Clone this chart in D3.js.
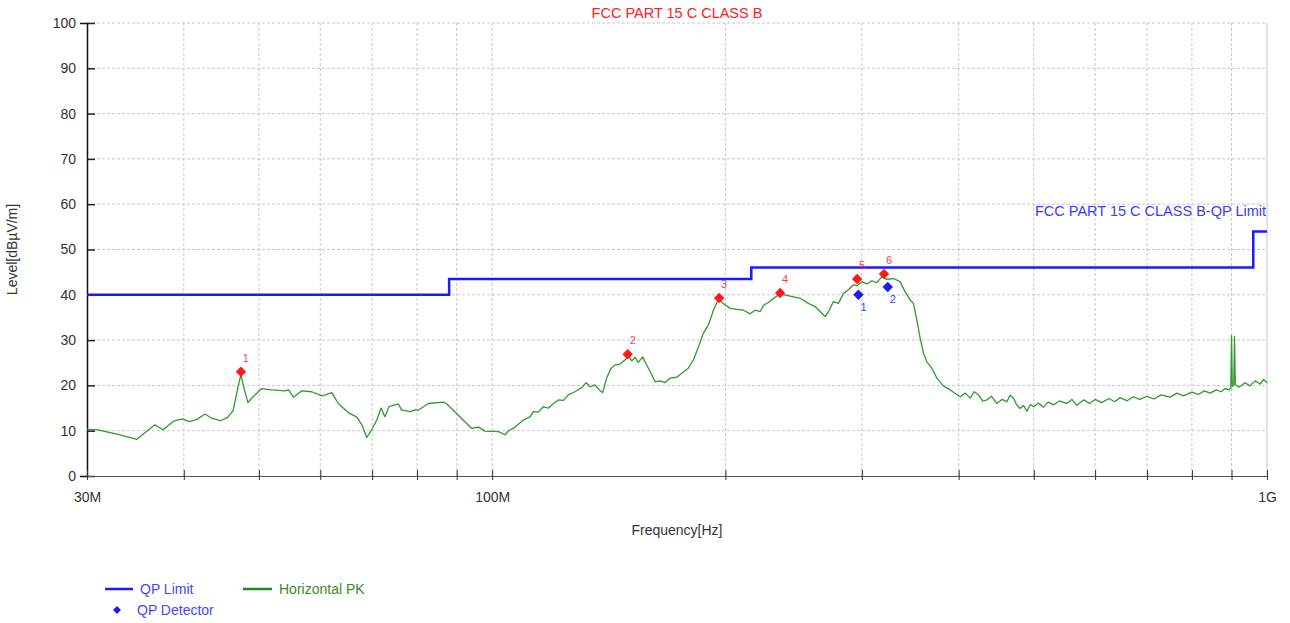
<!DOCTYPE html>
<html>
<head>
<meta charset="utf-8">
<script src="https://cdn.jsdelivr.net/npm/d3@7"></script>
<style>
    body { margin: 0; background: #fff; }
    svg { display: block; font-family: "Liberation Sans", Arial, sans-serif; }
    .grid line { stroke: #c8c8c8; stroke-dasharray: 3 2; }
</style>
</head>
<body>
<div id="chart"></div>
<script>
// peak trace (Horizontal PK), frequency in MHz / level in dBuV/m
const pkFreq = [30.0, 31.0, 32.9, 34.8, 35.8, 36.7, 37.6, 38.8, 39.8, 40.7, 41.6, 42.6, 43.5, 44.6, 45.6, 46.3,
    47.0, 47.4, 47.9, 48.4, 48.9, 50.4, 51.9, 54.0, 54.6, 55.4, 56.8, 58.5, 60.3, 62.1, 63.3, 65.2, 66.9, 67.9,
    68.9, 69.9, 71.0, 71.9, 72.7, 73.6, 75.7, 76.4, 78.4, 79.5, 80.3, 82.7, 86.5, 87.4, 89.5, 94.1, 96.0, 97.9,
    101.9, 103.9, 105.0, 107.1, 109.8, 112.0, 113.0, 114.7, 116.4, 118.2, 120.0, 121.7, 123.6, 125.4, 127.9,
    130.5, 132.2, 133.8, 135.7, 137.5, 138.9, 140.5, 142.4, 144.0, 146.2, 148.4, 150.0, 151.4, 152.9, 154.4,
    156.4, 158.3, 160.7, 162.3, 164.7, 167.1, 169.6, 173.1, 175.7, 179.1, 181.8, 184.6, 187.3, 190.1, 193.0,
    195.9, 198.8, 202.8, 206.9, 211.0, 215.3, 218.5, 221.8, 224.0, 227.2, 230.6, 235.3, 242.4, 250.0, 255.9,
    261.1, 265.0, 269.0, 271.7, 275.7, 279.8, 284.0, 288.3, 292.6, 295.6, 300.0, 304.5, 309.1, 313.7, 318.4,
    323.2, 329.6, 336.1, 341.1, 346.3, 349.7, 353.3, 356.7, 360.3, 363.9, 369.4, 374.9, 382.3, 390.0, 401.8,
    408, 413.9, 419, 424.3, 430, 435, 441, 448.2, 455, 461.6, 466, 470.7, 475, 480.2, 485, 489.9, 495, 500,
    507, 514.7, 522, 530.2, 540, 551.7, 560, 568.2, 580, 590, 600, 612, 625, 636, 646.3, 660, 672, 685, 700,
    715, 730, 750, 765, 780, 800, 815, 830, 844.8, 860, 872, 883, 893, 898, 900, 902, 906, 908, 910, 920, 937,
    950, 965, 980, 990, 1000];
const pkLevel = [10.3, 10.2, 9.2, 8.1, 9.8, 11.3, 10.2, 12.1, 12.6, 12.0, 12.5, 13.7, 12.7, 12.2, 13.0, 14.4,
    19.7, 22.4, 19.0, 16.2, 17.1, 19.3, 19.0, 18.8, 19.0, 17.4, 18.8, 18.6, 17.7, 18.4, 16.0, 14.0, 13.0, 11.3,
    8.5, 10.2, 12.4, 15.0, 13.1, 15.3, 15.9, 14.6, 14.2, 14.6, 14.5, 16.0, 16.3, 15.9, 14.2, 10.5, 10.8, 9.9,
    9.8, 9.1, 10.0, 10.8, 12.4, 13.1, 14.2, 14.1, 15.3, 15.0, 16.0, 16.8, 16.7, 17.9, 18.6,
    19.5, 20.6, 19.7, 20.1, 19.0, 18.4, 21.6, 23.8, 24.5, 24.7, 25.6, 26.5, 25.4, 26.2, 25.1,
    26.3, 24.5, 22.3, 20.8, 21.0, 20.6, 21.6, 21.8, 22.7, 23.8, 25.6, 28.5, 31.5, 33.3, 36.6,
    39.0, 38.1, 37.0, 36.8, 36.6, 35.8, 36.6, 36.3, 37.7, 38.3, 39.2, 40.2, 39.7, 39.2, 38.1,
    37.4, 36.3, 35.2, 36.3, 38.5, 38.1, 40.3, 41.1, 42.2, 42.0, 42.9, 42.4, 43.1, 42.7, 44.0,
    43.4, 43.6, 42.9, 40.7, 38.9, 38.1, 34.4, 30.5, 27.1, 25.2, 23.8, 21.6, 19.9, 19.0, 17.5,
    18.3, 17.2, 18.6, 17.9, 16.5, 16.8, 17.6, 16.0, 16.9, 16.4, 17.8, 17.2, 15.8, 14.9, 15.6, 14.3, 15.8, 15.3,
    16.1, 15.2, 16.3, 15.7, 16.6, 16.0, 16.9, 15.6, 16.8, 16.0, 16.9, 16.2, 17.1, 16.4, 17.3, 16.6, 17.5, 16.9, 17.6,
    17.0, 17.9, 17.4, 18.3, 17.7, 18.5, 18.0, 18.8, 18.3, 19.0, 18.6, 19.3, 19.0, 19.4, 31.0, 19.8, 20.0, 30.8, 20.2, 19.6, 20.6,
    19.9, 21.0, 20.3, 21.3, 20.6];

// QP limit (step line)
const limitFreq = [30, 88, 88, 216, 216, 960, 960, 1000];
const limitLevel = [40, 40, 43.5, 43.5, 46, 46, 54, 54];

// peak markers (red) and QP detector results (blue)
const peakIds = ['1', '2', '3', '4', '5', '6'];
const peakFreq = [47.4, 149.6, 196.3, 235.3, 295.8, 320.4];
const peakLevel = [23.0, 26.9, 39.3, 40.4, 43.5, 44.6];
const qpIds = ['1', '2'];
const qpFreq = [297.0, 324.0];
const qpLevel = [40.0, 41.7];

const yTicks = [0, 10, 20, 30, 40, 50, 60, 70, 80, 90, 100];
const xTicks = [30, 40, 50, 60, 70, 80, 90, 100, 200, 300, 400, 500, 600, 700, 800, 900, 1000];
const xTickLabels = {30: '30M', 100: '100M', 1000: '1G'};

const width = 1290;
const height = 623;
const margin = {top: 23, right: 23, bottom: 147, left: 87};
const graphWidth = width - margin.left - margin.right;
const graphHeight = height - margin.top - margin.bottom;

const svg = d3.select('#chart').append('svg')
    .attr('width', width)
    .attr('height', height);

const xFun = d3.scaleLog().domain([30, 1000]).range([0, graphWidth]);
const yFun = d3.scaleLinear().domain([0, 100]).range([graphHeight, 0]);

const g = svg.append('g').attr('transform', `translate(${margin.left},${margin.top})`);

// grid
const grid = g.append('g').attr('class', 'grid');
grid.selectAll('.gy').data(yTicks.filter(d => d > 0)).join('line')
    .attr('x1', 0).attr('x2', graphWidth)
    .attr('y1', d => yFun(d)).attr('y2', d => yFun(d));
grid.selectAll('.gx').data(xTicks.filter(d => d > 30 && d < 1000)).join('line')
    .attr('x1', d => xFun(d)).attr('x2', d => xFun(d))
    .attr('y1', 0).attr('y2', graphHeight);
g.append('line')
    .attr('x1', xFun(1000)).attr('x2', xFun(1000))
    .attr('y1', 0).attr('y2', graphHeight)
    .attr('stroke', '#c8c8c8');

// axes
const yAxis = d3.axisLeft(yFun).tickValues(yTicks).tickSize(7).tickPadding(4);
const yAxisG = g.append('g').call(yAxis);
yAxisG.select('.domain').attr('stroke', '#111').attr('stroke-width', 1.5);
yAxisG.selectAll('.tick line').attr('x2', 8).attr('stroke', '#222').attr('stroke-width', 1.5);
yAxisG.selectAll('.tick text').attr('font-size', 14).attr('fill', '#333');

const xAxis = d3.axisBottom(xFun).tickValues(xTicks)
    .tickFormat(d => xTickLabels[d] || '').tickSize(4);
const xAxisG = g.append('g').attr('transform', `translate(0,${graphHeight})`).call(xAxis);
xAxisG.select('.domain').attr('stroke', '#555');
xAxisG.selectAll('.tick line').attr('y1', -6).attr('stroke', '#333');
xAxisG.selectAll('.tick text').attr('y', 16).attr('font-size', 14).attr('fill', '#333');

// titles
svg.append('text')
    .attr('x', margin.left + graphWidth / 2).attr('y', 18)
    .attr('text-anchor', 'middle').attr('font-size', 14.5).attr('fill', '#ff2020')
    .text('FCC PART 15 C CLASS B');
svg.append('text')
    .attr('x', margin.left + graphWidth / 2).attr('y', 535)
    .attr('text-anchor', 'middle').attr('font-size', 14).attr('fill', '#333')
    .text('Frequency[Hz]');
svg.append('text')
    .attr('transform', `translate(17,${margin.top + graphHeight / 2}) rotate(-90)`)
    .attr('text-anchor', 'middle').attr('font-size', 14).attr('fill', '#333')
    .text('Level[dBµV/m]');

// limit line
const limitData = limitFreq.map((f, i) => ({f, v: limitLevel[i]}));
const line = d3.line().x(d => xFun(d.f)).y(d => yFun(d.v));
g.append('path').datum(limitData)
    .attr('d', line)
    .attr('fill', 'none').attr('stroke', '#1a1aff').attr('stroke-width', 2.5);
g.append('text')
    .attr('x', graphWidth - 1).attr('y', yFun(57.3))
    .attr('text-anchor', 'end').attr('font-size', 14.5).attr('fill', '#3a3aff')
    .text('FCC PART 15 C CLASS B-QP Limit');

// PK trace
const pkData = pkFreq.map((f, i) => ({f, v: pkLevel[i]}));
g.append('path').datum(pkData)
    .attr('d', line)
    .attr('fill', 'none').attr('stroke', '#2f9a2f').attr('stroke-width', 1.3)
    .attr('stroke-linejoin', 'round');

// markers
const diamond = d3.symbol().type(d3.symbolDiamond2).size(70);
const addMarkers = (ids, freqs, levels, color, dy) => {
    const mg = g.append('g');
    ids.forEach((id, i) => {
        const x = xFun(freqs[i]);
        const y = yFun(levels[i]);
        mg.append('path')
            .attr('d', diamond())
            .attr('transform', `translate(${x},${y})`)
            .attr('fill', color);
        mg.append('text')
            .attr('x', x + 5).attr('y', y + dy)
            .attr('text-anchor', 'middle').attr('font-size', 11).attr('fill', color)
            .attr('opacity', 0.85)
            .text(id);
    });
};
addMarkers(peakIds, peakFreq, peakLevel, '#ff1a1a', -10);
addMarkers(qpIds, qpFreq, qpLevel, '#1a1aff', 16);

// legend
const legend = svg.append('g').attr('font-size', 14);
legend.append('line').attr('x1', 105).attr('x2', 133).attr('y1', 589).attr('y2', 589)
    .attr('stroke', '#1a1aff').attr('stroke-width', 2.5);
legend.append('text').attr('x', 140).attr('y', 594).attr('fill', '#4646ff').text('QP Limit');
legend.append('line').attr('x1', 243).attr('x2', 272).attr('y1', 589).attr('y2', 589)
    .attr('stroke', '#1f8a1f').attr('stroke-width', 2.5);
legend.append('text').attr('x', 279).attr('y', 594).attr('fill', '#3a8a2a').text('Horizontal PK');
legend.append('path').attr('d', d3.symbol().type(d3.symbolDiamond2).size(40)())
    .attr('transform', 'translate(117,610)').attr('fill', '#1a1aff');
legend.append('text').attr('x', 137).attr('y', 615).attr('fill', '#4646ff').text('QP Detector');
</script>
</body>
</html>
